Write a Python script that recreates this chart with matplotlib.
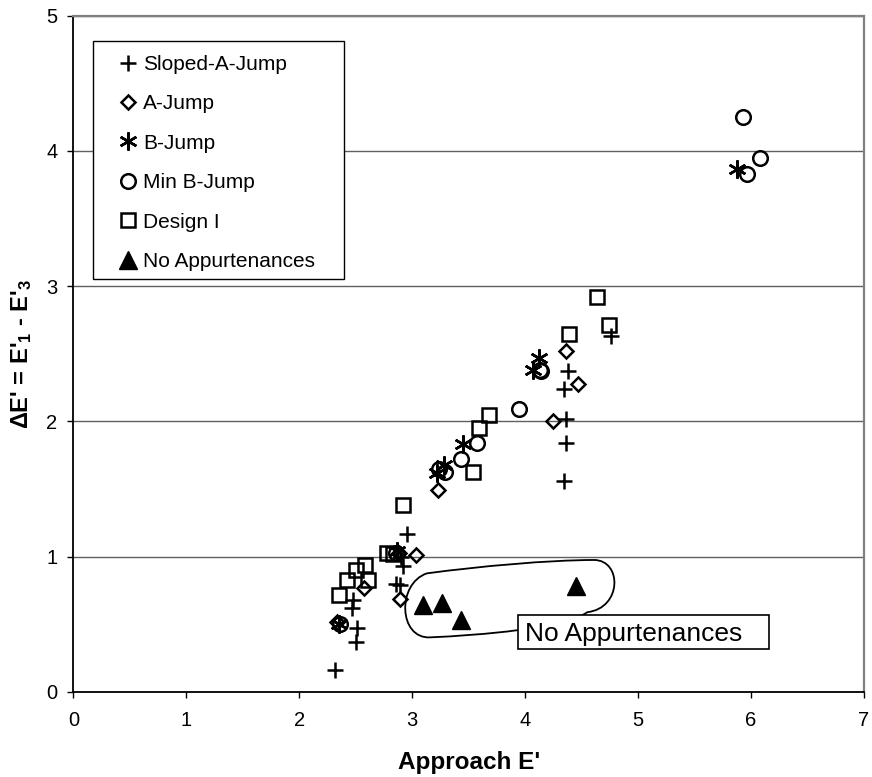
import numpy as np
import matplotlib
matplotlib.use("Agg")
import matplotlib.pyplot as plt
from matplotlib.path import Path
from matplotlib.patches import PathPatch, Rectangle

plt.rcParams['font.family'] = ['Liberation Sans', 'DejaVu Sans']
plt.rcParams['mathtext.fontset'] = 'custom'
plt.rcParams['mathtext.rm'] = 'Liberation Sans:bold'
plt.rcParams['mathtext.default'] = 'rm'

# approach E' vs. drop in specific energy, per spillway design
sloped_x = [2.32, 2.50, 2.51, 2.47, 2.48, 2.86, 2.89, 2.92, 2.90, 2.95,
            4.34, 4.36, 4.36, 4.34, 4.38, 4.76]
sloped_y = [0.16, 0.37, 0.47, 0.62, 0.68, 0.80, 0.79, 0.93, 1.00, 1.17,
            1.56, 1.84, 2.02, 2.24, 2.37, 2.63]

ajump_x = [2.33, 2.57, 2.89, 2.88, 3.03, 3.23, 4.25, 4.47, 4.36]
ajump_y = [0.52, 0.77, 0.69, 1.03, 1.01, 1.49, 2.00, 2.28, 2.52]

bjump_x = [2.35, 2.87, 3.22, 3.28, 3.45, 4.07, 4.12, 5.88]
bjump_y = [0.50, 1.04, 1.62, 1.68, 1.83, 2.38, 2.47, 3.87]

minb_x = [2.36, 2.86, 3.24, 3.29, 3.43, 3.57, 3.95, 4.13, 4.14, 5.93, 5.96, 6.08]
minb_y = [0.50, 1.03, 1.65, 1.63, 1.72, 1.84, 2.09, 2.38, 2.37, 4.25, 3.83, 3.95]

design_x = [2.35, 2.42, 2.50, 2.58, 2.61, 2.78, 2.83, 2.92, 3.54, 3.59,
            3.68, 4.39, 4.64, 4.74]
design_y = [0.72, 0.83, 0.90, 0.94, 0.83, 1.03, 1.02, 1.38, 1.63, 1.95,
            2.05, 2.65, 2.92, 2.71]

noapp_x = [3.10, 3.26, 3.43, 4.45]
noapp_y = [0.64, 0.655, 0.53, 0.78]

fig = plt.figure(figsize=(8.72, 7.77), dpi=100)
ax = fig.add_axes([0.0841, 0.1094, 0.9067, 0.8704])

open_kw = dict(linestyle='none', color='black', mfc='none', mew=1.8)
ax.plot(sloped_x, sloped_y, marker='+', ms=12, label='Sloped-A-Jump', **open_kw)
ax.plot(ajump_x, ajump_y, marker='D', ms=7.5, label='A-Jump', **open_kw)
ax.plot(bjump_x, bjump_y, marker=(6, 2, 0), ms=13, label='B-Jump', **open_kw)
ax.plot(minb_x, minb_y, marker='o', ms=10.5, label='Min B-Jump', **open_kw)
ax.plot(design_x, design_y, marker='s', ms=10.5, label='Design I', **open_kw)
ax.plot(noapp_x, noapp_y, linestyle='none', marker='^', ms=12.5, color='black',
        label='No Appurtenances')

# loop around the no-appurtenance runs
verts = [(3.13, 0.877),
         (3.6, 0.93), (4.2, 0.975), (4.61, 0.976),
         (4.86, 0.975), (4.86, 0.62), (4.55, 0.59),
         (4.35, 0.47), (3.6, 0.42), (3.16, 0.404),
         (2.88, 0.39), (2.86, 0.80), (3.13, 0.877),
         (3.13, 0.877)]
codes = [Path.MOVETO] + [Path.CURVE4] * 12 + [Path.CLOSEPOLY]
ax.add_patch(PathPatch(Path(verts, codes), facecolor='none', edgecolor='black',
                       lw=1.3, zorder=3))
ax.add_patch(Rectangle((3.94, 0.316), 2.216, 0.253, facecolor='white',
                       edgecolor='black', lw=1.2, zorder=4))
ax.text(4.0, 0.379, 'No Appurtenances', fontsize=19, va='baseline', ha='left',
        zorder=5)

ax.set_xlim(0, 7)
ax.set_ylim(0, 5)
ax.set_xticks(range(0, 8))
ax.set_yticks(range(0, 6))
ax.tick_params(direction='out', length=4.5, width=1, labelsize=14.5, color='black')
ax.tick_params(axis='x', pad=9)
ax.tick_params(axis='y', pad=7)
ax.yaxis.grid(True, color='#606060', lw=1)
ax.set_axisbelow(True)

for side in ['left', 'bottom']:
    ax.spines[side].set_color('black')
    ax.spines[side].set_linewidth(1.3)
for side in ['top', 'right']:
    ax.spines[side].set_color('#808080')
    ax.spines[side].set_linewidth(1.6)

ax.set_xlabel("Approach E'", fontsize=17.5, fontweight='bold', labelpad=15)
ax.set_ylabel(r"ΔE' = E'$_1$ - E'$_3$", fontsize=17, fontweight='bold', labelpad=9)

leg = ax.legend(loc='upper left', bbox_to_anchor=(0.059, 0.942), frameon=False,
                fontsize=15, borderpad=0, borderaxespad=0, handlelength=0.8,
                handletextpad=0.3, labelspacing=0.98, numpoints=1)
ax.add_patch(Rectangle((0.0253, 0.610), 0.317, 0.352, transform=ax.transAxes,
                       facecolor='white', edgecolor='black', lw=1.0, zorder=2.5))
leg.set_zorder(6)

fig.savefig('out.png', dpi=100)
